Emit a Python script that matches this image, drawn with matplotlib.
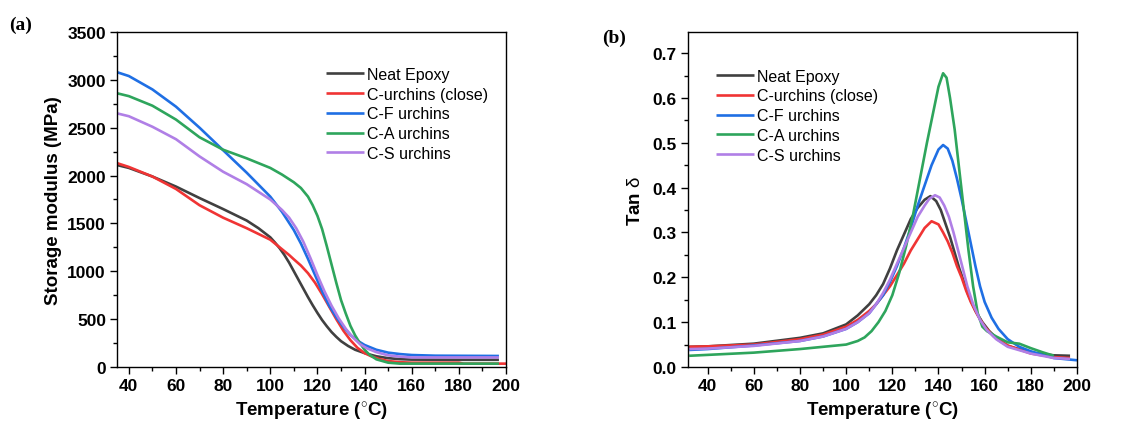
import matplotlib
matplotlib.use("Agg")
import matplotlib.pyplot as plt
from matplotlib.ticker import MultipleLocator, FormatStrFormatter

plt.rcParams['font.family'] = ['Liberation Sans', 'DejaVu Sans']
plt.rcParams['mathtext.fontset'] = 'custom'
plt.rcParams['mathtext.rm'] = 'Liberation Sans'
plt.rcParams['mathtext.it'] = 'Liberation Sans'

names = ["Neat Epoxy", "C-urchins (close)", "C-F urchins", "C-A urchins", "C-S urchins"]
colors = ["#404040", "#f03434", "#1f6fe4", "#2ea55c", "#b07fe6"]

# (a) storage modulus, MPa
t_neat = [35, 40, 50, 60, 70, 80, 90, 95, 100, 102, 104, 106, 108, 110, 112, 114, 116, 118, 120,
          122, 124, 126, 128, 130, 133, 136, 140, 145, 150, 155, 160, 180, 197]
e_neat = [2110, 2080, 1990, 1885, 1765, 1650, 1530, 1450, 1355, 1300, 1240, 1170, 1090, 1000, 910, 820, 730, 645, 565,
          490, 425, 365, 315, 270, 220, 180, 145, 112, 92, 82, 77, 75, 75]
t_close = [35, 40, 50, 60, 70, 80, 90, 100, 102, 105, 108, 110, 113, 116, 119, 122, 125, 128, 131, 134, 137,
           140, 143, 146, 150, 155, 160, 180, 182, 200]
e_close = [2130, 2090, 1990, 1860, 1690, 1560, 1450, 1330, 1290, 1230, 1170, 1125, 1060, 980, 880, 760, 630, 500, 380, 280, 200,
           145, 110, 85, 62, 50, 45, 45, 35, 35]
t_cf = [35, 40, 50, 60, 70, 80, 90, 100, 105, 110, 113, 116, 119, 122, 125, 128, 131, 134, 137, 140,
        145, 150, 155, 160, 170, 197]
e_cf = [3080, 3040, 2900, 2720, 2500, 2265, 2030, 1780, 1620, 1430, 1290, 1130, 960, 790, 640, 520, 420, 335, 275, 230,
        180, 150, 135, 125, 118, 115]
t_ca = [35, 40, 50, 60, 70, 80, 90, 100, 105, 110, 113, 116, 118, 120, 122, 124, 126, 128, 130, 132, 134,
        136, 138, 140, 142, 145, 150, 155, 160, 197]
e_ca = [2860, 2830, 2730, 2585, 2400, 2270, 2180, 2080, 2010, 1930, 1870, 1780, 1690, 1580, 1440, 1260, 1070, 880, 700, 560, 430,
        330, 250, 180, 130, 80, 45, 35, 35, 35]
t_cs = [35, 40, 50, 60, 70, 80, 90, 100, 105, 108, 111, 114, 117, 120, 123, 126, 129, 132, 135, 138, 141,
        145, 150, 155, 160, 197]
e_cs = [2650, 2620, 2510, 2380, 2200, 2040, 1910, 1750, 1640, 1560, 1450, 1310, 1140, 960, 790, 640, 510, 400, 310, 240, 195,
        155, 122, 108, 100, 100]

# (b) tan delta
d_neat_t = [32, 40, 60, 80, 90, 100, 105, 110, 113, 116, 119, 122, 125, 128, 131, 134, 136.5, 139, 141, 143, 145,
            147, 149, 151, 153, 156, 159, 162, 166, 170, 180, 190, 197]
d_neat = [0.045, 0.046, 0.052, 0.065, 0.075, 0.095, 0.115, 0.14, 0.16, 0.185, 0.22, 0.26, 0.295, 0.33, 0.355, 0.373, 0.381, 0.37, 0.35, 0.32, 0.29,
          0.255, 0.22, 0.19, 0.16, 0.125, 0.10, 0.08, 0.06, 0.047, 0.032, 0.026, 0.025]
d_close_t = [32, 40, 60, 80, 90, 100, 105, 110, 113, 116, 119, 122, 125, 128, 131, 134, 137, 140, 142, 144,
             146, 148, 150, 152, 154, 157, 160, 164, 170, 180, 190, 197]
d_close = [0.045, 0.046, 0.05, 0.062, 0.072, 0.09, 0.105, 0.125, 0.14, 0.16, 0.18, 0.205, 0.23, 0.26, 0.285, 0.31, 0.325, 0.318, 0.30, 0.28,
           0.255, 0.225, 0.20, 0.17, 0.145, 0.115, 0.09, 0.068, 0.048, 0.03, 0.022, 0.02]
d_cf_t = [32, 40, 60, 80, 90, 100, 105, 110, 113, 116, 119, 122, 125, 128, 131, 134, 137, 140, 142, 144, 146,
          148, 150, 152, 154, 156, 158, 160, 163, 166, 170, 175, 180, 190, 200]
d_cf = [0.038, 0.04, 0.048, 0.058, 0.068, 0.085, 0.10, 0.12, 0.14, 0.16, 0.19, 0.225, 0.265, 0.31, 0.36, 0.405, 0.45, 0.485, 0.495, 0.487, 0.46,
        0.42, 0.375, 0.325, 0.275, 0.225, 0.18, 0.145, 0.11, 0.085, 0.062, 0.045, 0.035, 0.02, 0.015]
d_ca_t = [32, 60, 80, 100, 105, 108, 111, 114, 117, 120, 123, 126, 129, 132, 135, 138, 140, 142, 143.5, 145,
          147, 149, 151, 153, 155, 157, 159, 161, 165, 170, 175, 180, 185, 190]
d_ca = [0.025, 0.032, 0.04, 0.05, 0.058, 0.066, 0.08, 0.10, 0.125, 0.16, 0.21, 0.27, 0.34, 0.42, 0.50, 0.575, 0.625, 0.655, 0.645, 0.60,
        0.53, 0.44, 0.35, 0.26, 0.18, 0.12, 0.09, 0.08, 0.068, 0.055, 0.052, 0.042, 0.033, 0.025]
d_cs_t = [32, 40, 60, 80, 90, 100, 105, 110, 113, 116, 119, 122, 125, 128, 131, 134, 136, 138.5, 140.5, 142.5,
          144.5, 146.5, 148.5, 150.5, 152.5, 155, 158, 161, 165, 170, 180, 190, 197]
d_cs = [0.04, 0.041, 0.047, 0.058, 0.068, 0.085, 0.10, 0.12, 0.14, 0.165, 0.195, 0.23, 0.265, 0.30, 0.335, 0.36, 0.375, 0.383, 0.378, 0.36,
        0.335, 0.30, 0.26, 0.22, 0.18, 0.14, 0.105, 0.082, 0.062, 0.045, 0.03, 0.02, 0.018]

fig = plt.figure(figsize=(11.32, 4.27), dpi=100)
ax_a = fig.add_axes([0.1034, 0.1382, 0.3436, 0.7845])
ax_b = fig.add_axes([0.6078, 0.1382, 0.3436, 0.7845])

series_a = [(t_neat, e_neat), (t_close, e_close), (t_cf, e_cf), (t_ca, e_ca), (t_cs, e_cs)]
series_b = [(d_neat_t, d_neat), (d_close_t, d_close), (d_cf_t, d_cf), (d_ca_t, d_ca), (d_cs_t, d_cs)]

for (x, y), c, n in zip(series_a, colors, names):
    ax_a.plot(x, y, color=c, lw=1.9, label=n, solid_capstyle='butt', solid_joinstyle='round')
for (x, y), c, n in zip(series_b, colors, names):
    ax_b.plot(x, y, color=c, lw=1.9, label=n, solid_capstyle='butt', solid_joinstyle='round')

ax_a.set_xlim(35, 200)
ax_a.set_ylim(0, 3500)
ax_a.xaxis.set_major_locator(MultipleLocator(20))
ax_a.xaxis.set_minor_locator(MultipleLocator(10))
ax_a.yaxis.set_major_locator(MultipleLocator(500))
ax_a.yaxis.set_minor_locator(MultipleLocator(250))
ax_a.set_ylabel("Storage modulus (MPa)", fontsize=13.5, fontweight='bold', labelpad=4)

ax_b.set_xlim(31.5, 200)
ax_b.set_ylim(0, 0.747)
ax_b.xaxis.set_major_locator(MultipleLocator(20))
ax_b.xaxis.set_minor_locator(MultipleLocator(10))
ax_b.yaxis.set_major_locator(MultipleLocator(0.1))
ax_b.yaxis.set_minor_locator(MultipleLocator(0.05))
ax_b.yaxis.set_major_formatter(FormatStrFormatter('%.1f'))
ax_b.set_ylabel(r"Tan $\delta$", fontsize=13.5, fontweight='bold', labelpad=6)

for ax in (ax_a, ax_b):
    ax.set_xlabel(r"Temperature ($^{\circ}$C)", fontsize=13.5, fontweight='bold', labelpad=5)
    ax.tick_params(which='major', direction='out', length=5, width=1, labelsize=12.5, pad=3)
    ax.tick_params(which='minor', direction='out', length=3, width=1)
    for lab in ax.get_xticklabels() + ax.get_yticklabels():
        lab.set_fontweight('bold')
    for s in ax.spines.values():
        s.set_linewidth(1)

ax_a.legend(loc='upper left', bbox_to_anchor=(0.52, 0.915), frameon=False, fontsize=11.5,
            handlelength=2.4, handletextpad=0.2, labelspacing=0.3, borderaxespad=0)
ax_b.legend(loc='upper left', bbox_to_anchor=(0.055, 0.91), frameon=False, fontsize=11.5,
            handlelength=2.4, handletextpad=0.2, labelspacing=0.3, borderaxespad=0)

fig.text(0.008, 0.93, "(a)", fontsize=14, fontweight='bold', family='Liberation Serif')
fig.text(0.532, 0.9, "(b)", fontsize=14, fontweight='bold', family='Liberation Serif')

fig.savefig("out.png", dpi=100)
